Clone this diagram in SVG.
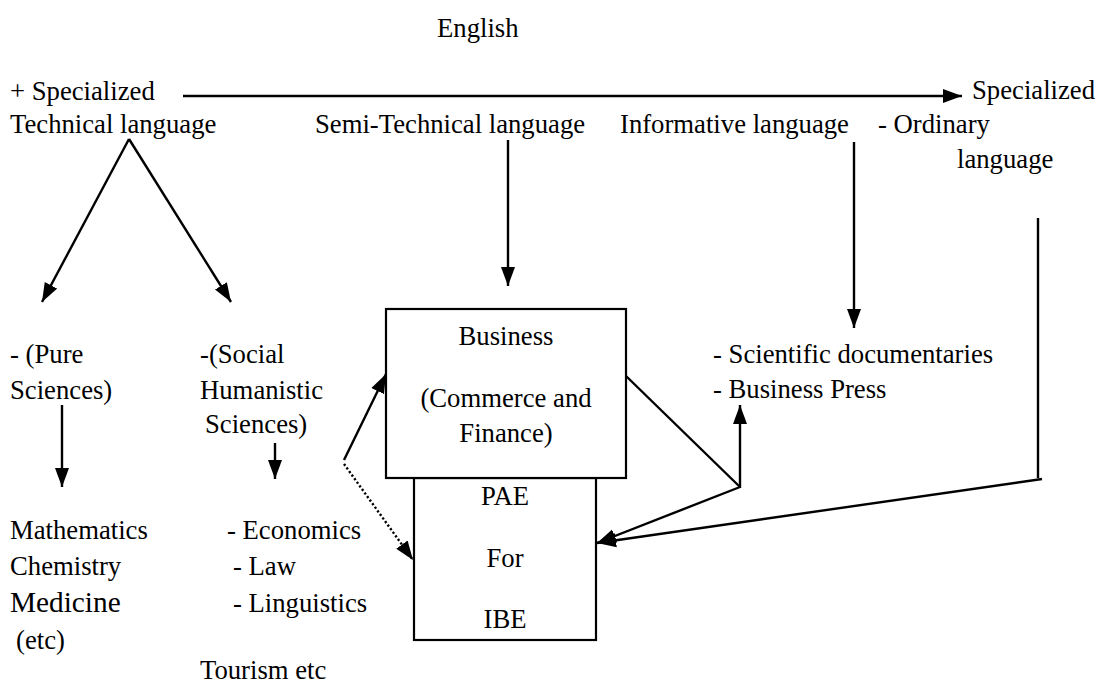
<svg xmlns="http://www.w3.org/2000/svg" width="1101" height="686" viewBox="0 0 1101 686">
<style>
text{font-family:"Liberation Serif","Times New Roman",serif;font-size:26.7px;fill:#000}
.big{font-size:29.3px}
.mid{text-anchor:middle}
.ln{stroke:#000;stroke-width:2.4;fill:none}
.dot{stroke:#000;stroke-width:2.4;fill:none;stroke-dasharray:2.2,2.2}
.box{fill:#fff;stroke:#000;stroke-width:2.2}
</style>
<defs>
<marker id="ah" markerUnits="userSpaceOnUse" markerWidth="22" markerHeight="16" refX="19" refY="7.5" orient="auto">
<path d="M0,0.5 L19,7.5 L0,14.5 z" fill="#000"/>
</marker>
</defs>
<rect width="1101" height="686" fill="#fff"/>
<g id="title"><text x="437" y="37">English</text></g>
<g id="scale">
<text x="10" y="100">+ Specialized</text>
<text x="972" y="99">Specialized</text>
</g>
<g id="technical"><text x="10" y="133">Technical language</text></g>
<g id="semitechnical"><text x="315" y="133">Semi-Technical language</text></g>
<g id="informative"><text x="620" y="133">Informative language</text></g>
<g id="ordinary">
<text x="878" y="133">- Ordinary</text>
<text x="957" y="168">language</text>
</g>
<g id="pure">
<text x="10" y="363">- (Pure</text>
<text x="10" y="399">Sciences)</text>
</g>
<g id="social">
<text x="200" y="363">-(Social</text>
<text x="200" y="399">Humanistic</text>
<text x="205" y="433">Sciences)</text>
</g>
<g id="pure-list">
<text x="10" y="539">Mathematics</text>
<text x="10" y="575">Chemistry</text>
<text x="10" y="612" class="big">Medicine</text>
<text x="16" y="649">(etc)</text>
</g>
<g id="social-list">
<text x="227" y="539">- Economics</text>
<text x="233" y="575">- Law</text>
<text x="233" y="612">- Linguistics</text>
<text x="200" y="679">Tourism etc</text>
</g>
<g id="media">
<text x="713" y="363">- Scientific documentaries</text>
<text x="713" y="398">- Business Press</text>
</g>
<g id="pae">
<rect class="box" x="414" y="478" width="182" height="162"/>
<text class="mid" x="505" y="505">PAE</text>
<text class="mid" x="505" y="567">For</text>
<text class="mid" x="505" y="628">IBE</text>
</g>
<g id="business">
<rect class="box" x="386" y="309" width="240" height="169"/>
<text class="mid" x="506" y="345">Business</text>
<text class="mid" x="506" y="407">(Commerce and</text>
<text class="mid" x="506" y="442">Finance)</text>
</g>
<g id="connectors">
<line class="ln" x1="183" y1="96" x2="962" y2="96" marker-end="url(#ah)"/>
<line class="ln" x1="129" y1="139" x2="42" y2="302" marker-end="url(#ah)"/>
<line class="ln" x1="129" y1="139" x2="231" y2="302" marker-end="url(#ah)"/>
<line class="ln" x1="508" y1="140" x2="508" y2="286" marker-end="url(#ah)"/>
<line class="ln" x1="854" y1="142" x2="854" y2="328" marker-end="url(#ah)"/>
<line class="ln" x1="62" y1="405" x2="62" y2="487" marker-end="url(#ah)"/>
<line class="ln" x1="275" y1="443" x2="275" y2="479" marker-end="url(#ah)"/>
<line class="ln" x1="344" y1="460" x2="386" y2="374" marker-end="url(#ah)"/>
<line class="dot" x1="344" y1="464" x2="413" y2="560" marker-end="url(#ah)"/>
<line class="ln" x1="626" y1="376" x2="740" y2="487"/>
<line class="ln" x1="740" y1="488" x2="740" y2="405" marker-end="url(#ah)"/>
<line class="ln" x1="740" y1="487" x2="597" y2="543" marker-end="url(#ah)"/>
<line class="ln" x1="1038" y1="218" x2="1038" y2="478"/>
<line class="ln" x1="1042" y1="479" x2="597" y2="543" marker-end="url(#ah)"/>
</g>
</svg>
